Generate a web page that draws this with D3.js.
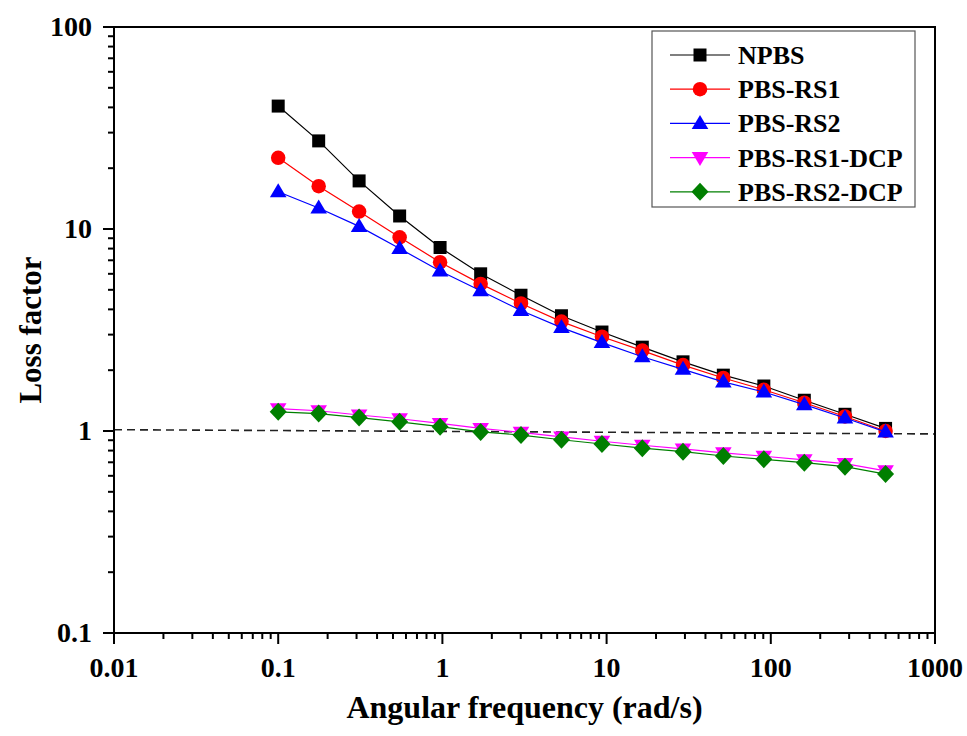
<!DOCTYPE html>
<html>
<head>
<meta charset="utf-8">
<script src="https://cdn.jsdelivr.net/npm/d3@7"></script>
<style>
  body { margin: 0; background: #fff; }
  text { font-family: "Liberation Serif", "Times New Roman", serif; font-weight: bold; }
</style>
</head>
<body>
<script>
var width = 967;
var height = 736;

// angular frequency (rad/s)
var freq = [0.1, 0.1764, 0.311, 0.549, 0.968, 1.71, 3.01, 5.31, 9.37, 16.5, 29.2, 51.4, 90.7, 160, 283, 500];

var npbs    = [40.6, 27.3, 17.3, 11.6, 8.1, 6.0, 4.7, 3.72, 3.09, 2.6, 2.2, 1.89, 1.67, 1.42, 1.21, 1.03];
var rs1     = [22.5, 16.3, 12.2, 9.1, 6.85, 5.35, 4.28, 3.48, 2.93, 2.5, 2.12, 1.83, 1.6, 1.38, 1.18, 1.0];
var rs2     = [15.3, 12.7, 10.3, 8.0, 6.2, 4.95, 3.95, 3.25, 2.74, 2.33, 2.02, 1.75, 1.56, 1.35, 1.16, 0.99];
var rs1dcp  = [1.29, 1.26, 1.2, 1.15, 1.09, 1.03, 0.985, 0.935, 0.89, 0.85, 0.815, 0.78, 0.75, 0.72, 0.69, 0.635];
var rs2dcp  = [1.245, 1.22, 1.165, 1.11, 1.05, 0.99, 0.955, 0.905, 0.862, 0.822, 0.79, 0.752, 0.724, 0.697, 0.666, 0.612];

var seriesNames = ["NPBS", "PBS-RS1", "PBS-RS2", "PBS-RS1-DCP", "PBS-RS2-DCP"];
var seriesColors = ["#000000", "#ff0000", "#0000ff", "#ff00ff", "#007f00"];
var seriesShapes = ["square", "circle", "triangle", "triangleDown", "diamond"];
var seriesValues = [npbs, rs1, rs2, rs1dcp, rs2dcp];

var xTicks = [0.01, 0.1, 1, 10, 100, 1000];
var xTickLabels = ["0.01", "0.1", "1", "10", "100", "1000"];
var yTicks = [0.1, 1, 10, 100];
var yTickLabels = ["0.1", "1", "10", "100"];

// reference line near loss factor = 1
var refLine = [[0.01, 1.015], [1000, 0.967]];

var plotLeft = 114, plotRight = 935, plotTop = 27, plotBottom = 633;

var x = d3.scaleLog().domain([0.01, 1000]).range([plotLeft, plotRight]);
var y = d3.scaleLog().domain([0.1, 100]).range([plotBottom, plotTop]);

var svg = d3.select("body")
            .append("svg")
            .attr("width", width)
            .attr("height", height);

function minorTicks(lo, hi) {
  var out = [];
  for (var p = lo; p < hi; p *= 10) {
    for (var k = 2; k <= 9; k++) out.push(p * k);
  }
  return out;
}

// marker paths, centered on 0,0
function shapePath(shape) {
  if (shape === "square") return "M-6.5,-6.5H6.5V6.5H-6.5Z";
  if (shape === "circle") return d3.symbol().type(d3.symbolCircle).size(165)();
  if (shape === "triangle") return "M0,-8.5L8.3,5.5H-8.3Z";
  if (shape === "triangleDown") return "M0,8.5L8.3,-5.5H-8.3Z";
  if (shape === "diamond") return "M0,-9L8.5,0L0,9L-8.5,0Z";
}

// dashed reference line
svg.append("line")
  .attr("x1", x(refLine[0][0])).attr("y1", y(refLine[0][1]))
  .attr("x2", x(refLine[1][0])).attr("y2", y(refLine[1][1]))
  .attr("stroke", "#222")
  .attr("stroke-width", 1.6)
  .attr("stroke-dasharray", "8,5");

// series
var line = d3.line()
  .x(function(d) { return x(d[0]); })
  .y(function(d) { return y(d[1]); });

seriesValues.forEach(function(vals, i) {
  var pts = freq.map(function(f, j) { return [f, vals[j]]; });
  svg.append("path")
    .attr("d", line(pts))
    .attr("fill", "none")
    .attr("stroke", seriesColors[i])
    .attr("stroke-width", 1.2);
  svg.selectAll(null)
    .data(pts)
    .enter()
    .append("path")
    .attr("d", shapePath(seriesShapes[i]))
    .attr("transform", function(d) { return "translate(" + x(d[0]) + "," + y(d[1]) + ")"; })
    .attr("fill", seriesColors[i]);
});

// frame
svg.append("rect")
  .attr("x", plotLeft).attr("y", plotTop)
  .attr("width", plotRight - plotLeft).attr("height", plotBottom - plotTop)
  .attr("fill", "none")
  .attr("stroke", "#000")
  .attr("stroke-width", 2);

// x axis
var xAxis = svg.append("g");
xAxis.selectAll("line.major").data(xTicks).enter().append("line")
  .attr("x1", function(d) { return x(d); }).attr("x2", function(d) { return x(d); })
  .attr("y1", plotBottom).attr("y2", plotBottom + 11)
  .attr("stroke", "#000").attr("stroke-width", 2);
xAxis.selectAll("line.minor").data(minorTicks(0.01, 1000)).enter().append("line")
  .attr("x1", function(d) { return x(d); }).attr("x2", function(d) { return x(d); })
  .attr("y1", plotBottom).attr("y2", plotBottom + 6)
  .attr("stroke", "#000").attr("stroke-width", 2);
xAxis.selectAll("text").data(xTicks).enter().append("text")
  .attr("x", function(d) { return x(d); })
  .attr("y", 677)
  .attr("text-anchor", "middle")
  .style("font-size", "28px")
  .text(function(d, i) { return xTickLabels[i]; });

// y axis
var yAxis = svg.append("g");
yAxis.selectAll("line.major").data(yTicks).enter().append("line")
  .attr("y1", function(d) { return y(d); }).attr("y2", function(d) { return y(d); })
  .attr("x1", plotLeft).attr("x2", plotLeft - 11)
  .attr("stroke", "#000").attr("stroke-width", 2);
yAxis.selectAll("line.minor").data(minorTicks(0.1, 100)).enter().append("line")
  .attr("y1", function(d) { return y(d); }).attr("y2", function(d) { return y(d); })
  .attr("x1", plotLeft).attr("x2", plotLeft - 6)
  .attr("stroke", "#000").attr("stroke-width", 2);
yAxis.selectAll("text").data(yTicks).enter().append("text")
  .attr("x", 92)
  .attr("y", function(d) { return y(d) + 9; })
  .attr("text-anchor", "end")
  .style("font-size", "28px")
  .text(function(d, i) { return yTickLabels[i]; });

// axis titles
svg.append("text")
  .attr("x", (plotLeft + plotRight) / 2)
  .attr("y", 718)
  .attr("text-anchor", "middle")
  .style("font-size", "32px")
  .text("Angular frequency (rad/s)");

svg.append("text")
  .attr("transform", "translate(41," + (plotTop + plotBottom) / 2 + ") rotate(-90)")
  .attr("text-anchor", "middle")
  .style("font-size", "31px")
  .text("Loss factor");

// legend
var legend = svg.append("g");
legend.append("rect")
  .attr("x", 652).attr("y", 31)
  .attr("width", 263).attr("height", 176)
  .attr("fill", "#fff")
  .attr("stroke", "#555")
  .attr("stroke-width", 1.2);

seriesNames.forEach(function(name, i) {
  var ly = 55 + i * 34.2;
  legend.append("line")
    .attr("x1", 670).attr("x2", 730)
    .attr("y1", ly).attr("y2", ly)
    .attr("stroke", seriesColors[i])
    .attr("stroke-width", 1.2);
  legend.append("path")
    .attr("d", shapePath(seriesShapes[i]))
    .attr("transform", "translate(700," + ly + ")")
    .attr("fill", seriesColors[i]);
  legend.append("text")
    .attr("x", 738)
    .attr("y", ly + 9)
    .style("font-size", "26px")
    .text(name);
});
</script>
</body>
</html>
